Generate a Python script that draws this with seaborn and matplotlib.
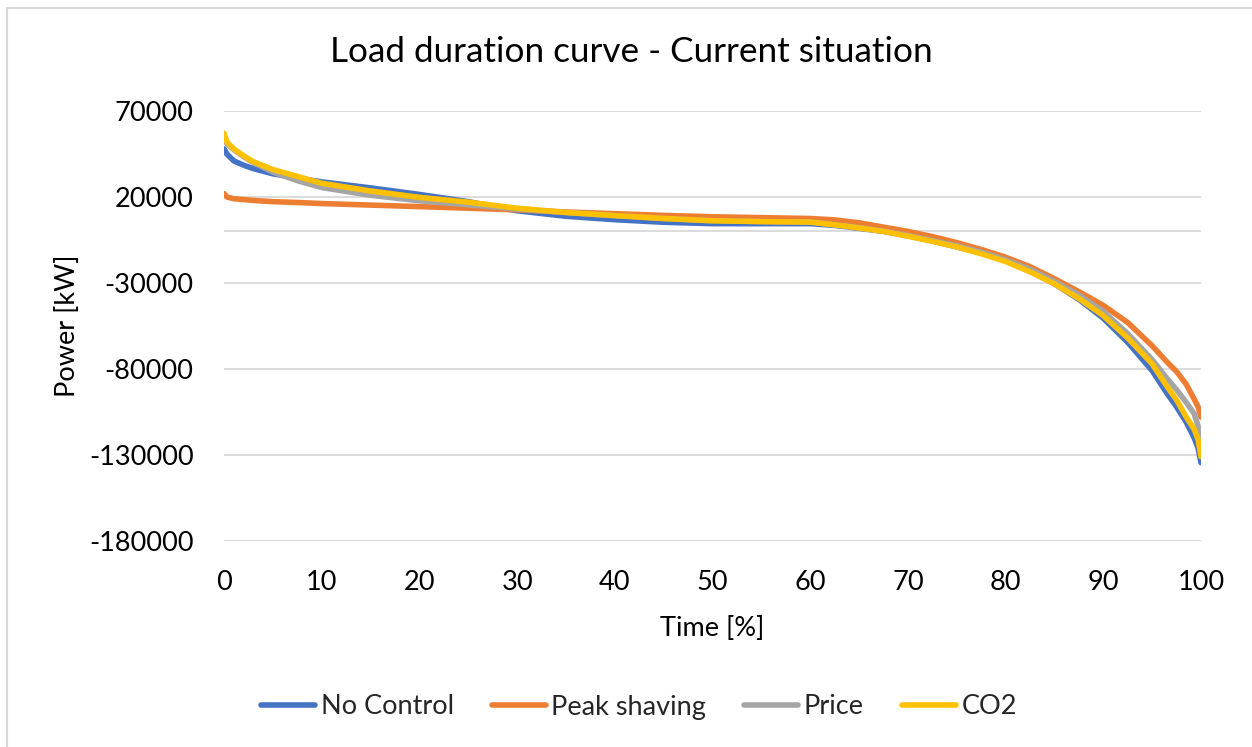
import numpy as np
import pandas as pd
import matplotlib
matplotlib.use("Agg")
import matplotlib.pyplot as plt
import seaborn as sns
from matplotlib.patches import Rectangle
from matplotlib.lines import Line2D

# ---- data ----
time_pct = [0, 0.3, 1, 2, 3, 5, 7.5, 10, 15, 20, 25, 30, 35, 40, 45, 50, 55, 60,
            62.5, 65, 67.5, 70, 72.5, 75, 77.5, 80, 82.5, 85, 87.5, 90, 92.5, 95,
            96.5, 97.5, 98.5, 99.3, 99.7, 100]

no_control = [48000, 45000, 41000, 38500, 36500, 33500, 31000, 28800, 25300, 21500,
              17300, 12000, 8800, 6800, 5300, 4500, 4500, 4500,
              3500, 1800, 0, -2500, -5500, -9000, -12500, -17000, -23000, -30500,
              -39500, -50500, -64500, -81000, -94000, -102000, -111000, -120000,
              -126000, -134500]

peak_shaving = [22000, 20000, 19000, 18500, 18000, 17300, 16800, 16200, 15300, 14400,
                13500, 12500, 11300, 10300, 9300, 8500, 8000, 7500,
                6700, 5000, 2500, 0, -3000, -6500, -10500, -15000, -20500, -27500,
                -35000, -43000, -53000, -66500, -75800, -81500, -89000, -97500,
                -102000, -108000]

price = [54000, 51000, 47500, 43500, 40000, 34500, 29500, 25500, 21000, 17800,
         15500, 13000, 11000, 9200, 7500, 6200, 5700, 5400,
         3900, 2200, 200, -2400, -5300, -8300, -12000, -16500, -22000, -29000,
         -37000, -46500, -59500, -74500, -85400, -92000, -99500, -106000,
         -113000, -125000]

co2 = [57000, 52000, 48000, 44000, 40500, 36000, 32000, 28000, 23500, 19800,
       17000, 13500, 11000, 9200, 7500, 6200, 5700, 5400,
       3800, 2000, 0, -2800, -5800, -9000, -13000, -17500, -23500, -30500,
       -39000, -49000, -62000, -77000, -90000, -98000, -108000, -115000,
       -121000, -131000]

series_names = ["No Control", "Peak shaving", "Price", "CO2"]
series_colors = ["#4472C4", "#ED7D31", "#A5A5A5", "#FFC000"]

y_ticks = [70000, 20000, -30000, -80000, -130000, -180000]
x_ticks = [0, 10, 20, 30, 40, 50, 60, 70, 80, 90, 100]

frames = []
for name, vals in zip(series_names, [no_control, peak_shaving, price, co2]):
    frames.append(pd.DataFrame({"Time": time_pct, "Power": vals, "Series": name}))
df = pd.concat(frames, ignore_index=True)

# ---- styling ----
sns.set_theme(style="white")
plt.rcParams["font.family"] = ["Lato", "DejaVu Sans"]

W, H = 1252, 747
fig = plt.figure(figsize=(W / 100, H / 100), dpi=100)
ax = fig.add_axes([224 / W, 1 - 541 / H, (1201 - 224) / W, (541 - 111) / H])

grid_color = "#D9D9D9"
for yv in y_ticks:
    ax.axhline(yv, color=grid_color, lw=1.3, zorder=0)
ax.axhline(0, color=grid_color, lw=1.3, zorder=0)

LW = 4.0
sns.lineplot(data=df, x="Time", y="Power", hue="Series", hue_order=series_names,
             palette=series_colors, lw=LW, ax=ax, legend=False, sort=False)

ax.set_xlim(0, 100)
ax.set_ylim(-180000, 70000)
ax.set_xticks(x_ticks)
ax.set_xticklabels([str(t) for t in x_ticks])
ax.set_yticks(y_ticks)
ax.set_yticklabels([str(t) for t in y_ticks])
ax.tick_params(axis="both", length=0, labelsize=19.5, colors="black")
ax.tick_params(axis="x", pad=21)
ax.tick_params(axis="y", pad=22)
for s in ax.spines.values():
    s.set_visible(False)
ax.grid(False)

ax.set_xlabel("Time [%]", fontsize=19.5, labelpad=15, color="black")
ax.set_ylabel("Power [kW]", fontsize=19.5, labelpad=6, color="black")

fig.text(631 / W, 1 - 52 / H, "Load duration curve - Current situation",
         ha="center", va="center", fontsize=25.3, color="black")

# legend
handles = [Line2D([0], [0], color=c, lw=LW, solid_capstyle="round") for c in series_colors]
fig.legend(handles, series_names, loc="center", bbox_to_anchor=(639 / W, 1 - 707 / H),
           ncol=4, frameon=False, fontsize=19.5, handlelength=2.0, handletextpad=0.2,
           columnspacing=1.4)

# chart-area border
fig.patches.append(Rectangle((7 / W, -0.1), 1.2, 1 - 8 / H + 0.1, transform=fig.transFigure,
                             fill=False, edgecolor="#D9D9D9", lw=1.5))

fig.savefig("out.png", dpi=100)
